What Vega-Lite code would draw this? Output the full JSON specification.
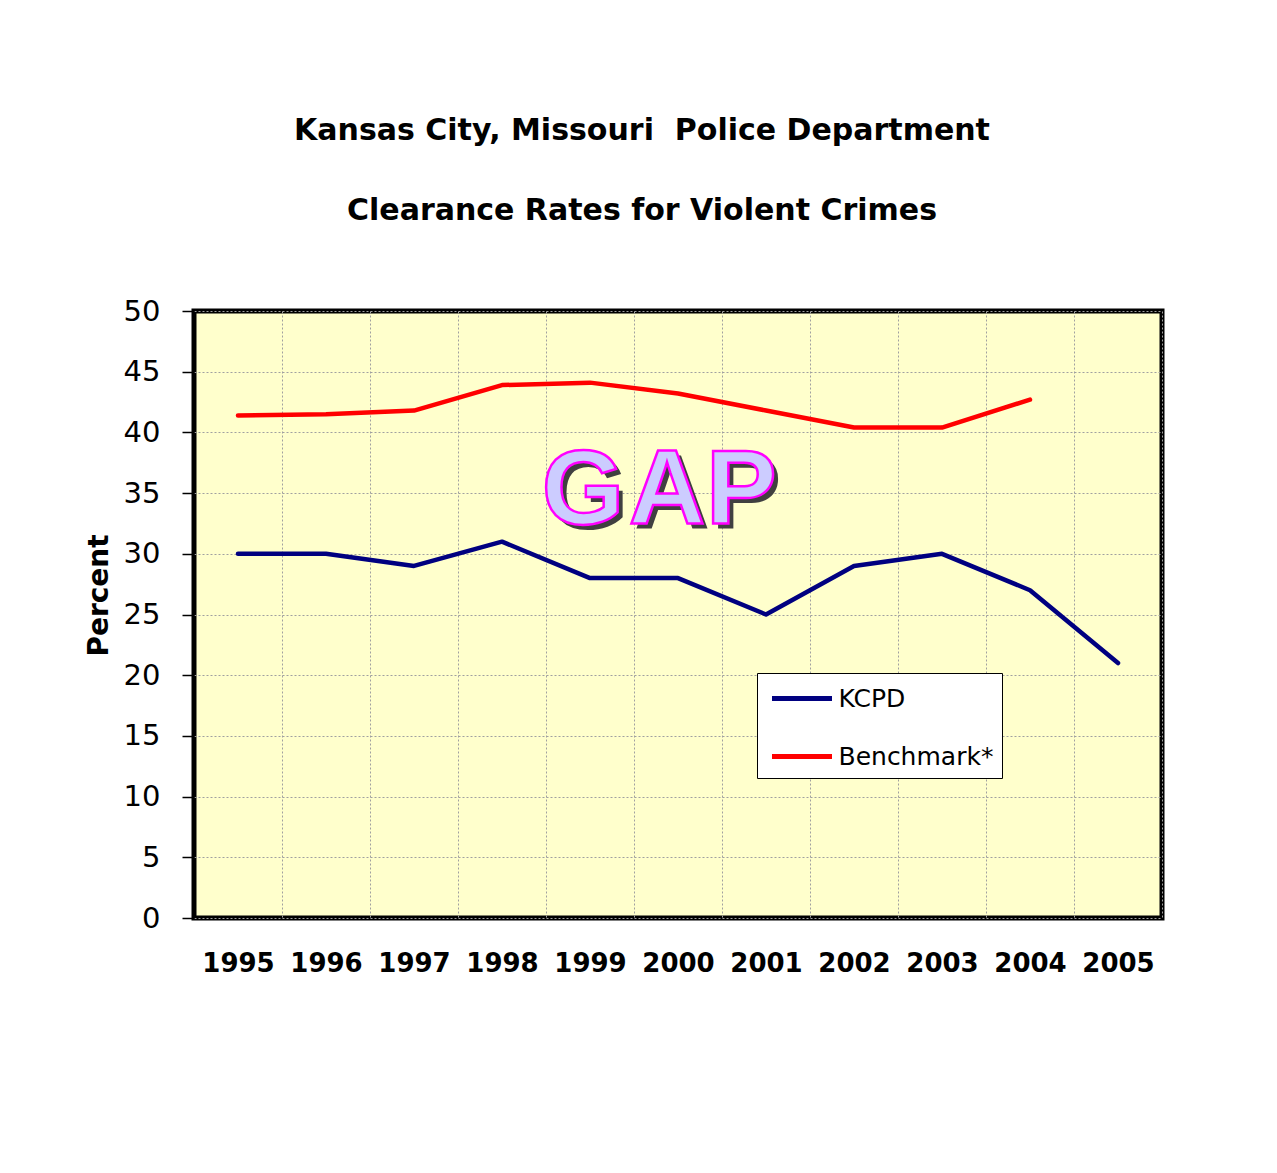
{
  "$schema": "https://vega.github.io/schema/vega-lite/v6.json",
  "autosize": {"type": "none"},
  "padding": {"left": 194, "top": 311, "right": 115, "bottom": 255},
  "width": 968,
  "height": 607,
  "background": "white",
  "title": {
    "text": ["Kansas City, Missouri \u00a0Police Department", "Clearance Rates for Violent Crimes"],
    "font": "DejaVu Sans",
    "fontSize": 30,
    "fontWeight": "bold",
    "color": "black",
    "lineHeight": 80,
    "anchor": "middle",
    "baseline": "alphabetic",
    "offset": 47,
    "dx": -36
  },
  "datasets": {
    "lines": [
      {"series": "KCPD", "year": 1995, "value": 30},
      {"series": "KCPD", "year": 1996, "value": 30},
      {"series": "KCPD", "year": 1997, "value": 29},
      {"series": "KCPD", "year": 1998, "value": 31},
      {"series": "KCPD", "year": 1999, "value": 28},
      {"series": "KCPD", "year": 2000, "value": 28},
      {"series": "KCPD", "year": 2001, "value": 25},
      {"series": "KCPD", "year": 2002, "value": 29},
      {"series": "KCPD", "year": 2003, "value": 30},
      {"series": "KCPD", "year": 2004, "value": 27},
      {"series": "KCPD", "year": 2005, "value": 21},
      {"series": "Benchmark*", "year": 1995, "value": 41.4},
      {"series": "Benchmark*", "year": 1996, "value": 41.5},
      {"series": "Benchmark*", "year": 1997, "value": 41.8},
      {"series": "Benchmark*", "year": 1998, "value": 43.9},
      {"series": "Benchmark*", "year": 1999, "value": 44.1},
      {"series": "Benchmark*", "year": 2000, "value": 43.2},
      {"series": "Benchmark*", "year": 2001, "value": 41.8},
      {"series": "Benchmark*", "year": 2002, "value": 40.4},
      {"series": "Benchmark*", "year": 2003, "value": 40.4},
      {"series": "Benchmark*", "year": 2004, "value": 42.7}
    ],
    "gap": [
      {"letter": "G", "year": 1998.92, "value": 32.45},
      {"letter": "A", "year": 1999.875, "value": 32.45},
      {"letter": "P", "year": 2000.72, "value": 32.45}
    ]
  },
  "config": {
    "view": {"fill": "#FFFFCC", "stroke": "black", "strokeWidth": 5},
    "axis": {"domain": false}
  },
  "layer": [
    {
      "data": {"name": "lines"},
      "mark": {"type": "line", "strokeWidth": 4.5, "strokeCap": "round", "strokeJoin": "round"},
      "encoding": {
        "x": {
          "field": "year", "type": "quantitative",
          "scale": {"domain": [1994.5, 2005.5], "nice": false, "zero": false},
          "axis": {
            "title": null,
            "values": [1995.5, 1996.5, 1997.5, 1998.5, 1999.5, 2000.5, 2001.5, 2002.5, 2003.5, 2004.5, 2005.5],
            "labelExpr": "floor(datum.value)",
            "labelOffset": -44,
            "ticks": false,
            "grid": true,
            "gridColor": "#a0a0a0",
            "gridDash": [2, 2],
            "labelFont": "DejaVu Sans",
            "labelFontSize": 26,
            "labelFontWeight": "bold",
            "labelColor": "black",
            "labelPadding": 32,
            "labelOverlap": false,
            "labelFlush": false
          }
        },
        "y": {
          "field": "value", "type": "quantitative",
          "scale": {"domain": [0, 50], "nice": false},
          "axis": {
            "title": "Percent",
            "titleFont": "DejaVu Sans",
            "titleFontSize": 28,
            "titleFontWeight": "bold",
            "titleColor": "black",
            "titleX": -95,
            "titleY": 284,
            "titleAngle": -90,
            "titleAlign": "center",
            "titleBaseline": "middle",
            "values": [0, 5, 10, 15, 20, 25, 30, 35, 40, 45, 50],
            "tickSize": 12,
            "tickColor": "black",
            "tickWidth": 1.5,
            "grid": true,
            "gridColor": "#a0a0a0",
            "gridDash": [2, 2],
            "labelFont": "DejaVu Sans",
            "labelFontSize": 29,
            "labelColor": "black",
            "labelPadding": 22,
            "labelFlush": false
          }
        },
        "color": {
          "field": "series", "type": "nominal",
          "scale": {"domain": ["KCPD", "Benchmark*"], "range": ["#000080", "#FF0000"]},
          "legend": {
            "title": null,
            "orient": "none",
            "legendX": 563,
            "legendY": 362,
            "fillColor": "white",
            "strokeColor": "black",
            "padding": 8,
            "symbolType": "M-2,0H2",
            "symbolSize": 900,
            "symbolStrokeWidth": 5,
            "symbolOffset": 19.5,
            "labelFont": "DejaVu Sans",
            "labelFontSize": 25,
            "labelColor": "black",
            "labelOffset": 19,
            "rowPadding": 27
          }
        }
      }
    },
    {
      "data": {"name": "gap"},
      "mark": {"type": "text", "font": "Liberation Sans", "fontSize": 106, "fontWeight": "bold", "fill": "#404040", "align": "center", "baseline": "alphabetic", "dx": 5, "dy": 5},
      "encoding": {
        "x": {"field": "year", "type": "quantitative"},
        "y": {"field": "value", "type": "quantitative"},
        "text": {"field": "letter"}
      }
    },
    {
      "data": {"name": "gap"},
      "mark": {"type": "text", "font": "Liberation Sans", "fontSize": 106, "fontWeight": "bold", "fill": "#CCCCFF", "stroke": "#FF00FF", "strokeWidth": 2.5, "align": "center", "baseline": "alphabetic"},
      "encoding": {
        "x": {"field": "year", "type": "quantitative"},
        "y": {"field": "value", "type": "quantitative"},
        "text": {"field": "letter"}
      }
    }
  ]
}
